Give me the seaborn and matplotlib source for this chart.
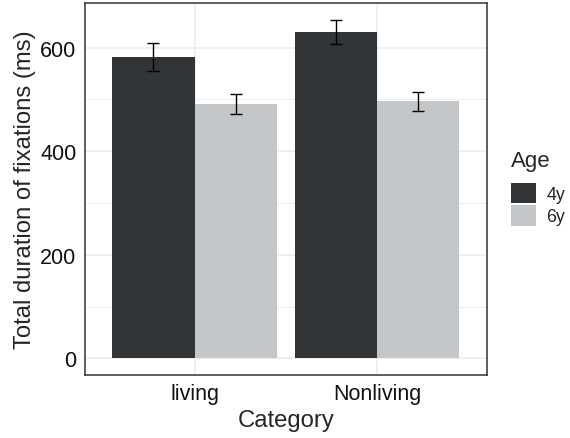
import matplotlib
matplotlib.use("Agg")
import matplotlib.pyplot as plt
import matplotlib.patches as mpatches
import pandas as pd
import seaborn as sns

# values
categories = ["living", "Nonliving"]
ages = ["4y", "6y"]
mean_4y = [582, 630]
mean_6y = [491, 496]
se_4y = [27, 24]
se_6y = [20, 18]

colors = {"4y": "#313538", "6y": "#c3c7c9"}

df = pd.DataFrame({
    "Category": categories * 2,
    "Age": ["4y"] * 2 + ["6y"] * 2,
    "Duration": mean_4y + mean_6y,
    "SE": se_4y + se_6y,
})

sns.set_style("white")
plt.rcParams["font.family"] = ["Liberation Sans", "DejaVu Sans"]

fig = plt.figure(figsize=(5.7, 4.39), dpi=100)
ax = fig.add_axes([0.149, 0.1435, 0.705, 0.8475])

sns.barplot(data=df, x="Category", y="Duration", hue="Age", hue_order=ages,
            order=categories, palette=colors, width=0.9, errorbar=None,
            linewidth=0, saturation=1, ax=ax, legend=False, zorder=2)

# error bars at the bar centres
for age, bars in zip(ages, ax.containers):
    sub = df[df["Age"] == age].set_index("Category").loc[categories]
    xs = [b.get_x() + b.get_width() / 2 for b in bars]
    ax.errorbar(xs, sub["Duration"], yerr=sub["SE"], fmt="none",
                ecolor="black", elinewidth=1, capsize=4.5, capthick=1, zorder=3)

# theme_bw look
ax.set_xlim(-0.6, 1.6)
ax.set_ylim(-32, 686)
ax.set_yticks([0, 200, 400, 600])
ax.set_yticks([100, 300, 500], minor=True)
ax.grid(True, which="major", color="#ebebeb", linewidth=1.1, zorder=0)
ax.grid(True, which="minor", axis="y", color="#ebebeb", linewidth=0.6, zorder=0)
ax.set_axisbelow(True)
for s in ax.spines.values():
    s.set_color("#333333")
    s.set_linewidth(1.1)
ax.tick_params(axis="both", which="major", length=4, color="#333333",
               labelsize=15.5, labelcolor="#111111", pad=2)
ax.tick_params(axis="y", which="minor", length=0)
ax.set_xlabel("Category", fontsize=17.2, labelpad=3)
ax.set_ylabel("Total duration of fixations (ms)", fontsize=17.2, labelpad=3)

handles = [mpatches.Patch(facecolor=colors[a], edgecolor="none", label=a) for a in ages]
leg = fig.legend(handles=handles, title="Age", loc="upper left",
                 bbox_to_anchor=(0.896, 0.655), frameon=False,
                 fontsize=12.8, title_fontsize=16, handlelength=1.4,
                 handleheight=1.4, handletextpad=0.6, labelspacing=0.12,
                 borderpad=0, borderaxespad=0)
leg._legend_box.align = "left"
leg._legend_box.sep = 8

fig.savefig("out.png", dpi=100)
